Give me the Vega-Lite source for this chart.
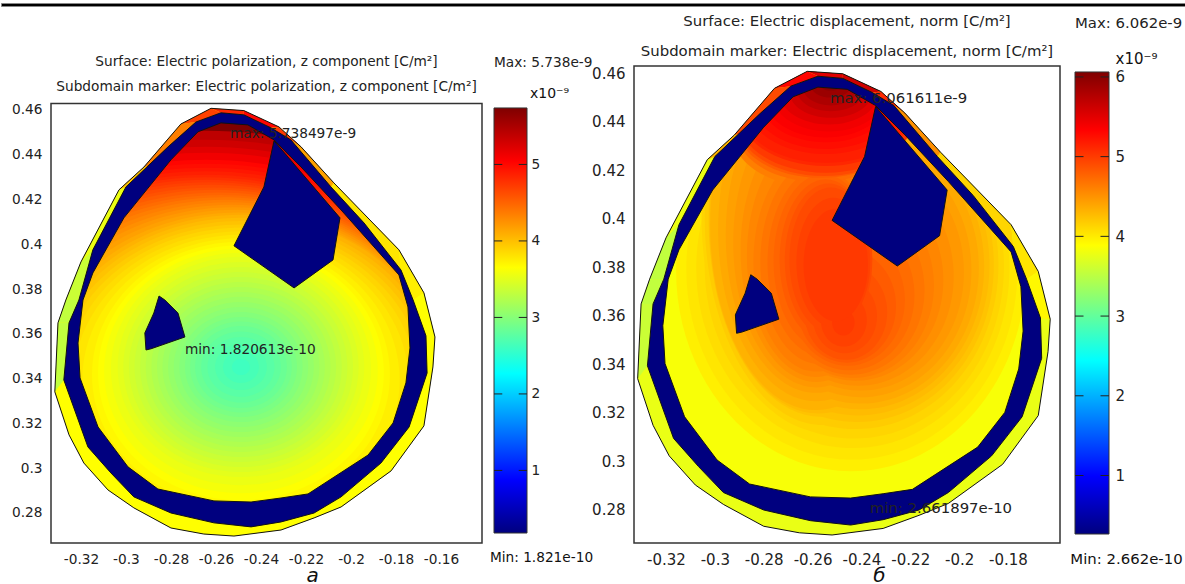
{"$schema":"https://vega.github.io/schema/vega-lite/v6.json","background":"white","padding":{"left":0,"top":2,"right":0,"bottom":0},"spacing":7,
"config":{"font":"DejaVu Sans","view":{"stroke":null},"axis":{"grid":false,"ticks":false,"domain":false,"labelColor":"#222","titleColor":"#111","labelFlush":false,"labelOverlap":false},"title":{"fontWeight":"normal","color":"#222","subtitleColor":"#222"}},
"datasets":{
"polys":[
{"s":"O","x":-0.2622,"y":0.4607},{"s":"O","x":-0.2476,"y":0.4597},{"s":"O","x":-0.232,"y":0.4524},{"s":"O","x":-0.2222,"y":0.4435},{"s":"O","x":-0.2076,"y":0.4274},{"s":"O","x":-0.1787,"y":0.3975},{"s":"O","x":-0.1676,"y":0.3783},{"s":"O","x":-0.1627,"y":0.3586},{"s":"O","x":-0.1636,"y":0.3452},{"s":"O","x":-0.1676,"y":0.3189},{"s":"O","x":-0.1822,"y":0.2988},{"s":"O","x":-0.2044,"y":0.2827},{"s":"O","x":-0.2164,"y":0.2778},{"s":"O","x":-0.2311,"y":0.2724},{"s":"O","x":-0.252,"y":0.2697},{"s":"O","x":-0.2654,"y":0.2706},{"s":"O","x":-0.28,"y":0.2733},{"s":"O","x":-0.2965,"y":0.2823},{"s":"O","x":-0.308,"y":0.2903},{"s":"O","x":-0.3187,"y":0.3023},{"s":"O","x":-0.3253,"y":0.3149},{"s":"O","x":-0.3316,"y":0.3341},{"s":"O","x":-0.3302,"y":0.3649},{"s":"O","x":-0.3267,"y":0.3751},{"s":"O","x":-0.32,"y":0.3921},{"s":"O","x":-0.3031,"y":0.4243},{"s":"O","x":-0.292,"y":0.4345},{"s":"O","x":-0.2756,"y":0.4537},{"s":"O","x":-0.2622,"y":0.4607},
{"s":"R","x":-0.2578,"y":0.4587},{"s":"R","x":-0.2476,"y":0.4578},{"s":"R","x":-0.2356,"y":0.452},{"s":"R","x":-0.2267,"y":0.4466},{"s":"R","x":-0.2089,"y":0.4256},{"s":"R","x":-0.1942,"y":0.4095},{"s":"R","x":-0.1778,"y":0.3885},{"s":"R","x":-0.1724,"y":0.3751},{"s":"R","x":-0.1667,"y":0.3591},{"s":"R","x":-0.1662,"y":0.3425},{"s":"R","x":-0.1742,"y":0.3184},{"s":"R","x":-0.1867,"y":0.3023},{"s":"R","x":-0.2044,"y":0.2872},{"s":"R","x":-0.2164,"y":0.28},{"s":"R","x":-0.2311,"y":0.276},{"s":"R","x":-0.2444,"y":0.2738},{"s":"R","x":-0.2609,"y":0.2756},{"s":"R","x":-0.28,"y":0.28},{"s":"R","x":-0.2965,"y":0.2872},{"s":"R","x":-0.3067,"y":0.2979},{"s":"R","x":-0.3169,"y":0.3095},{"s":"R","x":-0.3276,"y":0.3394},{"s":"R","x":-0.3253,"y":0.3649},{"s":"R","x":-0.3209,"y":0.3751},{"s":"R","x":-0.3147,"y":0.3975},{"s":"R","x":-0.3,"y":0.4256},{"s":"R","x":-0.2813,"y":0.4435},{"s":"R","x":-0.2689,"y":0.4546},{"s":"R","x":-0.2578,"y":0.4587},
{"s":"I","x":-0.2578,"y":0.4542},{"s":"I","x":-0.2458,"y":0.4533},{"s":"I","x":-0.2342,"y":0.4466},{"s":"I","x":-0.2222,"y":0.4345},{"s":"I","x":-0.2044,"y":0.4153},{"s":"I","x":-0.1787,"y":0.3863},{"s":"I","x":-0.1747,"y":0.372},{"s":"I","x":-0.1738,"y":0.3537},{"s":"I","x":-0.1756,"y":0.3381},{"s":"I","x":-0.1813,"y":0.3202},{"s":"I","x":-0.1924,"y":0.3059},{"s":"I","x":-0.2191,"y":0.2885},{"s":"I","x":-0.2311,"y":0.2867},{"s":"I","x":-0.2444,"y":0.2849},{"s":"I","x":-0.2609,"y":0.2854},{"s":"I","x":-0.2858,"y":0.2907},{"s":"I","x":-0.2991,"y":0.3006},{"s":"I","x":-0.3124,"y":0.3184},{"s":"I","x":-0.3204,"y":0.3403},{"s":"I","x":-0.3213,"y":0.3559},{"s":"I","x":-0.3191,"y":0.3751},{"s":"I","x":-0.3147,"y":0.3872},{"s":"I","x":-0.3009,"y":0.4118},{"s":"I","x":-0.28,"y":0.4377},{"s":"I","x":-0.268,"y":0.4502},{"s":"I","x":-0.2578,"y":0.4542},
{"s":"H","x":-0.2342,"y":0.4462},{"s":"H","x":-0.2049,"y":0.4118},{"s":"H","x":-0.208,"y":0.393},{"s":"H","x":-0.2253,"y":0.3805},{"s":"H","x":-0.252,"y":0.3993},{"s":"H","x":-0.2387,"y":0.4256},{"s":"H","x":-0.2342,"y":0.4462},
{"s":"S","x":-0.2853,"y":0.3769},{"s":"S","x":-0.2827,"y":0.3751},{"s":"S","x":-0.2769,"y":0.3693},{"s":"S","x":-0.2738,"y":0.3586},{"s":"S","x":-0.2889,"y":0.3533},{"s":"S","x":-0.2911,"y":0.3528},{"s":"S","x":-0.2916,"y":0.3604},{"s":"S","x":-0.2876,"y":0.3693},{"s":"S","x":-0.2853,"y":0.3769}
],
"mask":[
{"x":-0.34,"y":0.49},{"x":-0.13,"y":0.49},{"x":-0.13,"y":0.26},{"x":-0.34,"y":0.26},{"x":-0.34,"y":0.49},
{"x":-0.2622,"y":0.4607},{"x":-0.2756,"y":0.4537},{"x":-0.292,"y":0.4345},{"x":-0.3031,"y":0.4243},{"x":-0.32,"y":0.3921},{"x":-0.3267,"y":0.3751},{"x":-0.3302,"y":0.3649},{"x":-0.3316,"y":0.3341},{"x":-0.3253,"y":0.3149},{"x":-0.3187,"y":0.3023},{"x":-0.308,"y":0.2903},{"x":-0.2965,"y":0.2823},{"x":-0.28,"y":0.2733},{"x":-0.2654,"y":0.2706},{"x":-0.252,"y":0.2697},{"x":-0.2311,"y":0.2724},{"x":-0.2164,"y":0.2778},{"x":-0.2044,"y":0.2827},{"x":-0.1822,"y":0.2988},{"x":-0.1676,"y":0.3189},{"x":-0.1636,"y":0.3452},{"x":-0.1627,"y":0.3586},{"x":-0.1676,"y":0.3783},{"x":-0.1787,"y":0.3975},{"x":-0.2076,"y":0.4274},{"x":-0.2222,"y":0.4435},{"x":-0.232,"y":0.4524},{"x":-0.2476,"y":0.4597},{"x":-0.2622,"y":0.4607},{"x":-0.34,"y":0.49}
],
"band":[
{"x":-0.2622,"y":0.4607},{"x":-0.2476,"y":0.4597},{"x":-0.232,"y":0.4524},{"x":-0.2222,"y":0.4435},{"x":-0.2076,"y":0.4274},{"x":-0.1787,"y":0.3975},{"x":-0.1676,"y":0.3783},{"x":-0.1627,"y":0.3586},{"x":-0.1636,"y":0.3452},{"x":-0.1676,"y":0.3189},{"x":-0.1822,"y":0.2988},{"x":-0.2044,"y":0.2827},{"x":-0.2164,"y":0.2778},{"x":-0.2311,"y":0.2724},{"x":-0.252,"y":0.2697},{"x":-0.2654,"y":0.2706},{"x":-0.28,"y":0.2733},{"x":-0.2965,"y":0.2823},{"x":-0.308,"y":0.2903},{"x":-0.3187,"y":0.3023},{"x":-0.3253,"y":0.3149},{"x":-0.3316,"y":0.3341},{"x":-0.3302,"y":0.3649},{"x":-0.3267,"y":0.3751},{"x":-0.32,"y":0.3921},{"x":-0.3031,"y":0.4243},{"x":-0.292,"y":0.4345},{"x":-0.2756,"y":0.4537},{"x":-0.2622,"y":0.4607},
{"x":-0.2578,"y":0.4587},{"x":-0.2689,"y":0.4546},{"x":-0.2813,"y":0.4435},{"x":-0.3,"y":0.4256},{"x":-0.3147,"y":0.3975},{"x":-0.3209,"y":0.3751},{"x":-0.3253,"y":0.3649},{"x":-0.3276,"y":0.3394},{"x":-0.3169,"y":0.3095},{"x":-0.3067,"y":0.2979},{"x":-0.2965,"y":0.2872},{"x":-0.28,"y":0.28},{"x":-0.2609,"y":0.2756},{"x":-0.2444,"y":0.2738},{"x":-0.2311,"y":0.276},{"x":-0.2164,"y":0.28},{"x":-0.2044,"y":0.2872},{"x":-0.1867,"y":0.3023},{"x":-0.1742,"y":0.3184},{"x":-0.1662,"y":0.3425},{"x":-0.1667,"y":0.3591},{"x":-0.1724,"y":0.3751},{"x":-0.1778,"y":0.3885},{"x":-0.1942,"y":0.4095},{"x":-0.2089,"y":0.4256},{"x":-0.2267,"y":0.4466},{"x":-0.2356,"y":0.452},{"x":-0.2476,"y":0.4578},{"x":-0.2578,"y":0.4587},{"x":-0.2622,"y":0.4607}
],
"ring":[
{"s":"K","x":-0.2578,"y":0.4587},{"s":"K","x":-0.2476,"y":0.4578},{"s":"K","x":-0.2356,"y":0.452},{"s":"K","x":-0.2267,"y":0.4466},{"s":"K","x":-0.2089,"y":0.4256},{"s":"K","x":-0.1942,"y":0.4095},{"s":"K","x":-0.1778,"y":0.3885},{"s":"K","x":-0.1724,"y":0.3751},{"s":"K","x":-0.1667,"y":0.3591},{"s":"K","x":-0.1662,"y":0.3425},{"s":"K","x":-0.1742,"y":0.3184},{"s":"K","x":-0.1867,"y":0.3023},{"s":"K","x":-0.2044,"y":0.2872},{"s":"K","x":-0.2164,"y":0.28},{"s":"K","x":-0.2311,"y":0.276},{"s":"K","x":-0.2444,"y":0.2738},{"s":"K","x":-0.2609,"y":0.2756},{"s":"K","x":-0.28,"y":0.28},{"s":"K","x":-0.2965,"y":0.2872},{"s":"K","x":-0.3067,"y":0.2979},{"s":"K","x":-0.3169,"y":0.3095},{"s":"K","x":-0.3276,"y":0.3394},{"s":"K","x":-0.3253,"y":0.3649},{"s":"K","x":-0.3209,"y":0.3751},{"s":"K","x":-0.3147,"y":0.3975},{"s":"K","x":-0.3,"y":0.4256},{"s":"K","x":-0.2813,"y":0.4435},{"s":"K","x":-0.2689,"y":0.4546},{"s":"K","x":-0.2578,"y":0.4587},
{"s":"K","x":-0.2578,"y":0.4542},{"s":"K","x":-0.268,"y":0.4502},{"s":"K","x":-0.28,"y":0.4377},{"s":"K","x":-0.3009,"y":0.4118},{"s":"K","x":-0.3147,"y":0.3872},{"s":"K","x":-0.3191,"y":0.3751},{"s":"K","x":-0.3213,"y":0.3559},{"s":"K","x":-0.3204,"y":0.3403},{"s":"K","x":-0.3124,"y":0.3184},{"s":"K","x":-0.2991,"y":0.3006},{"s":"K","x":-0.2858,"y":0.2907},{"s":"K","x":-0.2609,"y":0.2854},{"s":"K","x":-0.2444,"y":0.2849},{"s":"K","x":-0.2311,"y":0.2867},{"s":"K","x":-0.2191,"y":0.2885},{"s":"K","x":-0.1924,"y":0.3059},{"s":"K","x":-0.1813,"y":0.3202},{"s":"K","x":-0.1756,"y":0.3381},{"s":"K","x":-0.1738,"y":0.3537},{"s":"K","x":-0.1747,"y":0.372},{"s":"K","x":-0.1787,"y":0.3863},{"s":"K","x":-0.2044,"y":0.4153},{"s":"K","x":-0.2222,"y":0.4345},{"s":"K","x":-0.2342,"y":0.4466},{"s":"K","x":-0.2458,"y":0.4533},{"s":"K","x":-0.2578,"y":0.4542},{"s":"K","x":-0.2578,"y":0.4587},
{"s":"H","x":-0.2342,"y":0.4462},{"s":"H","x":-0.2049,"y":0.4118},{"s":"H","x":-0.208,"y":0.393},{"s":"H","x":-0.2253,"y":0.3805},{"s":"H","x":-0.252,"y":0.3993},{"s":"H","x":-0.2387,"y":0.4256},
{"s":"S","x":-0.2853,"y":0.3769},{"s":"S","x":-0.2827,"y":0.3751},{"s":"S","x":-0.2769,"y":0.3693},{"s":"S","x":-0.2738,"y":0.3586},{"s":"S","x":-0.2889,"y":0.3533},{"s":"S","x":-0.2911,"y":0.3528},{"s":"S","x":-0.2916,"y":0.3604},{"s":"S","x":-0.2876,"y":0.3693}
],
"strips":[
{"s":"q22","a":3.5,"b":3.55,"x":-0.3316,"y":0.3341},{"s":"q22","a":3.5,"b":3.55,"x":-0.3302,"y":0.3649},{"s":"q22","a":3.5,"b":3.55,"x":-0.3253,"y":0.3649},{"s":"q22","a":3.5,"b":3.55,"x":-0.3276,"y":0.3394},
{"s":"q23","a":3.5,"b":3.5,"x":-0.3302,"y":0.3649},{"s":"q23","a":3.5,"b":3.5,"x":-0.3267,"y":0.3751},{"s":"q23","a":3.5,"b":3.5,"x":-0.3209,"y":0.3751},{"s":"q23","a":3.5,"b":3.5,"x":-0.3253,"y":0.3649},
{"s":"q24","a":3.55,"b":3.5,"x":-0.3267,"y":0.3751},{"s":"q24","a":3.55,"b":3.5,"x":-0.32,"y":0.3921},{"s":"q24","a":3.55,"b":3.5,"x":-0.3147,"y":0.3975},{"s":"q24","a":3.55,"b":3.5,"x":-0.3209,"y":0.3751},
{"s":"q25","a":3.75,"b":3.75,"x":-0.32,"y":0.3921},{"s":"q25","a":3.75,"b":3.75,"x":-0.3031,"y":0.4243},{"s":"q25","a":3.75,"b":3.75,"x":-0.3,"y":0.4256},{"s":"q25","a":3.75,"b":3.75,"x":-0.3147,"y":0.3975},
{"s":"q26","a":4.2,"b":4.3,"x":-0.3031,"y":0.4243},{"s":"q26","a":4.2,"b":4.3,"x":-0.292,"y":0.4345},{"s":"q26","a":4.2,"b":4.3,"x":-0.29,"y":0.435},{"s":"q26","a":4.2,"b":4.3,"x":-0.3,"y":0.4256},
{"s":"q27","a":4.6,"b":4.9,"x":-0.292,"y":0.4345},{"s":"q27","a":4.6,"b":4.9,"x":-0.2756,"y":0.4537},{"s":"q27","a":4.6,"b":4.9,"x":-0.2689,"y":0.4546},{"s":"q27","a":4.6,"b":4.9,"x":-0.2813,"y":0.4435},{"s":"q27","a":4.6,"b":4.9,"x":-0.29,"y":0.435},
{"s":"q28","a":4.95,"b":5.3,"x":-0.2756,"y":0.4537},{"s":"q28","a":4.95,"b":5.3,"x":-0.2622,"y":0.4607},{"s":"q28","a":4.95,"b":5.3,"x":-0.2578,"y":0.4587},{"s":"q28","a":4.95,"b":5.3,"x":-0.2689,"y":0.4546},
{"s":"q1","a":5.1,"b":5.5,"x":-0.2622,"y":0.4607},{"s":"q1","a":5.1,"b":5.5,"x":-0.2476,"y":0.4597},{"s":"q1","a":5.1,"b":5.5,"x":-0.2476,"y":0.4578},{"s":"q1","a":5.1,"b":5.5,"x":-0.2578,"y":0.4587},
{"s":"q2","a":5.3,"b":5.6,"x":-0.2476,"y":0.4597},{"s":"q2","a":5.3,"b":5.6,"x":-0.232,"y":0.4524},{"s":"q2","a":5.3,"b":5.6,"x":-0.2356,"y":0.452},{"s":"q2","a":5.3,"b":5.6,"x":-0.2476,"y":0.4578},
{"s":"q3","a":5.0,"b":5.1,"x":-0.232,"y":0.4524},{"s":"q3","a":5.0,"b":5.1,"x":-0.2222,"y":0.4435},{"s":"q3","a":5.0,"b":5.1,"x":-0.2267,"y":0.4466},{"s":"q3","a":5.0,"b":5.1,"x":-0.2356,"y":0.452},
{"s":"q4","a":4.4,"b":4.5,"x":-0.2222,"y":0.4435},{"s":"q4","a":4.4,"b":4.5,"x":-0.2076,"y":0.4274},{"s":"q4","a":4.4,"b":4.5,"x":-0.2089,"y":0.4256},{"s":"q4","a":4.4,"b":4.5,"x":-0.2267,"y":0.4466},
{"s":"q5","a":4.0,"b":4.1,"x":-0.2076,"y":0.4274},{"s":"q5","a":4.0,"b":4.1,"x":-0.1787,"y":0.3975},{"s":"q5","a":4.0,"b":4.1,"x":-0.1778,"y":0.3885},{"s":"q5","a":4.0,"b":4.1,"x":-0.1942,"y":0.4095},{"s":"q5","a":4.0,"b":4.1,"x":-0.2089,"y":0.4256},
{"s":"q6","a":3.95,"b":4.0,"x":-0.1787,"y":0.3975},{"s":"q6","a":3.95,"b":4.0,"x":-0.1676,"y":0.3783},{"s":"q6","a":3.95,"b":4.0,"x":-0.1724,"y":0.3751},{"s":"q6","a":3.95,"b":4.0,"x":-0.1778,"y":0.3885},
{"s":"q7","a":3.85,"b":3.9,"x":-0.1676,"y":0.3783},{"s":"q7","a":3.85,"b":3.9,"x":-0.1627,"y":0.3586},{"s":"q7","a":3.85,"b":3.9,"x":-0.1667,"y":0.3591},{"s":"q7","a":3.85,"b":3.9,"x":-0.1724,"y":0.3751}
],
"ella":[
{"v":5.7,"x":-0.2644,"y":0.2943,"r":0.1743},{"v":5.6,"x":-0.2644,"y":0.2948,"r":0.1693},{"v":5.5,"x":-0.2644,"y":0.2961,"r":0.1643},{"v":5.4,"x":-0.2644,"y":0.2979,"r":0.1594},{"v":5.3,"x":-0.2644,"y":0.2992,"r":0.1544},{"v":5.25,"x":-0.2644,"y":0.2997,"r":0.1519},{"v":5.2,"x":-0.2644,"y":0.3001,"r":0.1494},{"v":5.15,"x":-0.2644,"y":0.3008,"r":0.1469},{"v":5.1,"x":-0.2644,"y":0.3015,"r":0.1444},{"v":5.05,"x":-0.2644,"y":0.3037,"r":0.1407},{"v":5.0,"x":-0.2644,"y":0.3059,"r":0.137},{"v":4.95,"x":-0.2633,"y":0.3077,"r":0.1337},{"v":4.9,"x":-0.2622,"y":0.3095,"r":0.1305},{"v":4.85,"x":-0.2611,"y":0.311,"r":0.1275},{"v":4.8,"x":-0.26,"y":0.3126,"r":0.1245},{"v":4.75,"x":-0.2589,"y":0.3141,"r":0.1215},{"v":4.7,"x":-0.2578,"y":0.3157,"r":0.1185},{"v":4.65,"x":-0.2567,"y":0.3175,"r":0.1153},{"v":4.6,"x":-0.2556,"y":0.3193,"r":0.1121},{"v":4.55,"x":-0.2544,"y":0.3211,"r":0.1088},{"v":4.5,"x":-0.2533,"y":0.3229,"r":0.1056},{"v":4.45,"x":-0.2522,"y":0.3245,"r":0.1026},{"v":4.4,"x":-0.2511,"y":0.326,"r":0.0996},{"v":4.35,"x":-0.25,"y":0.3271,"r":0.0971},{"v":4.3,"x":-0.2489,"y":0.3283,"r":0.0946},{"v":4.25,"x":-0.2489,"y":0.3296,"r":0.0916},{"v":4.2,"x":-0.2489,"y":0.3309,"r":0.0886},{"v":4.15,"x":-0.2489,"y":0.3322,"r":0.0854},{"v":4.1,"x":-0.2489,"y":0.3336,"r":0.0822},{"v":4.05,"x":-0.2489,"y":0.3354,"r":0.0785},{"v":4.0,"x":-0.2489,"y":0.3372,"r":0.0747},{"v":3.95,"x":-0.2489,"y":0.3394,"r":0.0705},{"v":3.9,"x":-0.2489,"y":0.3417,"r":0.0662},{"v":3.85,"x":-0.2489,"y":0.3426,"r":0.0635},{"v":3.8,"x":-0.2489,"y":0.3434,"r":0.0608},{"v":3.75,"x":-0.2489,"y":0.3443,"r":0.0578},{"v":3.7,"x":-0.2489,"y":0.3452,"r":0.0548},{"v":3.65,"x":-0.2489,"y":0.3452,"r":0.0523},{"v":3.6,"x":-0.2489,"y":0.3452,"r":0.0498},{"v":3.55,"x":-0.2489,"y":0.3452,"r":0.0473},{"v":3.5,"x":-0.2489,"y":0.3452,"r":0.0448},{"v":3.45,"x":-0.2489,"y":0.3452,"r":0.0423},{"v":3.4,"x":-0.2489,"y":0.3452,"r":0.0398},{"v":3.35,"x":-0.2489,"y":0.3452,"r":0.0373},{"v":3.3,"x":-0.2489,"y":0.3452,"r":0.0349},{"v":3.25,"x":-0.2489,"y":0.3452,"r":0.0324},{"v":3.2,"x":-0.2489,"y":0.3452,"r":0.0299},{"v":3.15,"x":-0.2489,"y":0.3452,"r":0.0274},{"v":3.1,"x":-0.2489,"y":0.3452,"r":0.0249},{"v":3.05,"x":-0.2489,"y":0.3452,"r":0.0226},{"v":3.0,"x":-0.2489,"y":0.3452,"r":0.0204},{"v":2.95,"x":-0.2489,"y":0.3452,"r":0.0177},{"v":2.9,"x":-0.2489,"y":0.3452,"r":0.0149},{"v":2.85,"x":-0.2489,"y":0.3452,"r":0.0115},{"v":2.8,"x":-0.2489,"y":0.3452,"r":0.008},{"v":2.75,"x":-0.2489,"y":0.3452,"r":0.004}
],
"ellb":[
{"e":"t","v":3.95,"x":-0.2443,"y":0.3788,"r":0.0777},{"e":"t","v":4.0,"x":-0.2439,"y":0.3792,"r":0.0736},{"e":"t","v":4.05,"x":-0.2435,"y":0.3797,"r":0.0696},
{"e":"t","v":4.1,"x":-0.2429,"y":0.3803,"r":0.0665},{"e":"r","v":4.1,"x":-0.2546,"y":0.4015,"r":0.0552},
{"e":"t","v":4.15,"x":-0.2423,"y":0.3809,"r":0.0634},{"e":"r","v":4.15,"x":-0.2556,"y":0.4005,"r":0.0527},
{"e":"t","v":4.2,"x":-0.2417,"y":0.3809,"r":0.0607},{"e":"r","v":4.2,"x":-0.2566,"y":0.3994,"r":0.0499},
{"e":"t","v":4.25,"x":-0.2411,"y":0.3809,"r":0.0581},{"e":"r","v":4.25,"x":-0.2576,"y":0.3984,"r":0.0485},
{"e":"t","v":4.3,"x":-0.2406,"y":0.3803,"r":0.0552},{"e":"r","v":4.3,"x":-0.2586,"y":0.3974,"r":0.047},
{"e":"t","v":4.35,"x":-0.2402,"y":0.3797,"r":0.0524},{"e":"r","v":4.35,"x":-0.2586,"y":0.3954,"r":0.0435},
{"e":"t","v":4.4,"x":-0.2402,"y":0.3788,"r":0.0491},{"e":"r","v":4.4,"x":-0.2586,"y":0.3933,"r":0.0401},
{"e":"t","v":4.45,"x":-0.2402,"y":0.378,"r":0.0458},{"e":"r","v":4.45,"x":-0.2586,"y":0.3902,"r":0.0368},
{"e":"t","v":4.5,"x":-0.2412,"y":0.3763,"r":0.0423},{"e":"r","v":4.5,"x":-0.2586,"y":0.3871,"r":0.0335},
{"e":"t","v":4.55,"x":-0.2423,"y":0.3747,"r":0.0389},{"e":"r","v":4.55,"x":-0.2586,"y":0.3846,"r":0.0307},
{"e":"t","v":4.6,"x":-0.2433,"y":0.3726,"r":0.0358},{"e":"r","v":4.6,"x":-0.2586,"y":0.3821,"r":0.0278},{"e":"w","v":4.6,"x":-0.2586,"y":0.4345,"r":0.0368},
{"e":"t","v":4.65,"x":-0.2443,"y":0.3706,"r":0.0327},{"e":"r","v":4.65,"x":-0.2576,"y":0.3821,"r":0.0258},
{"e":"t","v":4.7,"x":-0.245,"y":0.3685,"r":0.029},{"e":"r","v":4.7,"x":-0.2566,"y":0.3821,"r":0.0237},{"e":"w","v":4.7,"x":-0.2574,"y":0.4365,"r":0.0368},
{"e":"t","v":4.75,"x":-0.2456,"y":0.3665,"r":0.0254},{"e":"r","v":4.75,"x":-0.2556,"y":0.3826,"r":0.0221},
{"e":"t","v":4.8,"x":-0.246,"y":0.364,"r":0.0219},{"e":"r","v":4.8,"x":-0.2546,"y":0.383,"r":0.0205},{"e":"w","v":4.8,"x":-0.2566,"y":0.4386,"r":0.0376},
{"e":"t","v":4.85,"x":-0.2464,"y":0.3615,"r":0.0184},{"e":"r","v":4.85,"x":-0.2535,"y":0.383,"r":0.0194},
{"e":"t","v":4.9,"x":-0.2468,"y":0.3598,"r":0.0143},{"e":"r","v":4.9,"x":-0.2525,"y":0.383,"r":0.0184},{"e":"w","v":4.9,"x":-0.2554,"y":0.4398,"r":0.0384},
{"e":"t","v":4.95,"x":-0.2472,"y":0.3582,"r":0.0102},{"e":"r","v":4.95,"x":-0.2515,"y":0.382,"r":0.0164},
{"e":"t","v":5.0,"x":-0.2474,"y":0.3572,"r":0.005},{"e":"r","v":5.0,"x":-0.2505,"y":0.3809,"r":0.0143},{"e":"w","v":5.0,"x":-0.2546,"y":0.4415,"r":0.0389},
{"e":"w","v":5.1,"x":-0.2546,"y":0.4439,"r":0.0384},{"e":"w","v":5.15,"x":-0.2546,"y":0.4448,"r":0.0376},{"e":"w","v":5.2,"x":-0.2546,"y":0.4468,"r":0.0348},{"e":"w","v":5.25,"x":-0.2546,"y":0.4472,"r":0.0319},{"e":"w","v":5.3,"x":-0.2546,"y":0.4481,"r":0.0286},{"e":"w","v":5.35,"x":-0.2546,"y":0.4489,"r":0.0266},{"e":"w","v":5.4,"x":-0.2533,"y":0.4501,"r":0.0245},{"e":"w","v":5.5,"x":-0.2533,"y":0.4514,"r":0.0217},{"e":"w","v":5.6,"x":-0.2525,"y":0.4522,"r":0.0184},{"e":"w","v":5.7,"x":-0.2525,"y":0.453,"r":0.0151},{"e":"w","v":5.8,"x":-0.2525,"y":0.4538,"r":0.0123},{"e":"w","v":5.9,"x":-0.2525,"y":0.4551,"r":0.009},{"e":"w","v":6.0,"x":-0.2525,"y":0.4563,"r":0.0061}
]
},
"vconcat":[
{"width":1185,"height":3,"data":{"values":[{"n":0}]},"mark":{"type":"rule","opacity":0},"encoding":{},"view":{"fill":"#000","stroke":"#888","strokeWidth":1}},
{"hconcat":[
{"width":50,"height":477,"data":{"values":[{"n":0}]},"mark":{"type":"rule","opacity":0},"encoding":{}},
{"width":431,"height":477,
"title":{"text":"Surface: Electric polarization, z component [C/m²]","subtitle":"Subdomain marker: Electric polarization, z component [C/m²]","anchor":"middle","frame":"group","offset":-28,"subtitlePadding":12,"fontSize":13.7,"subtitleFontSize":13.7},
"encoding":{
"x":{"field":"x","type":"quantitative","scale":{"domain":[-0.3333,-0.1418],"nice":false,"zero":false},"axis":{"values":[-0.32,-0.3,-0.28,-0.26,-0.24,-0.22,-0.2,-0.18,-0.16],"labelExpr":"'' + datum.value","labelFontSize":13.7,"labelPadding":9,"title":"а","titleFontStyle":"italic","titleFontWeight":"normal","titleFontSize":20,"titleX":261,"titleY":22}},
"y":{"field":"y","type":"quantitative","scale":{"domain":[0.2666,0.4796],"nice":false,"zero":false},"axis":{"values":[0.28,0.3,0.32,0.34,0.36,0.38,0.4,0.42,0.44,0.46],"labelExpr":"'' + datum.value","labelFontSize":13.7,"labelPadding":9,"title":null}}},
"layer":[
{"data":{"name":"polys"},"transform":[{"filter":"datum.s==='R'"},{"window":[{"op":"row_number","as":"i"}]}],"mark":{"type":"line","filled":true,"color":"#7f0000"},"encoding":{"order":{"field":"i"}}},
{"data":{"name":"ella"},"mark":{"type":"point","filled":true,"clip":true,"opacity":1,"strokeWidth":0,"shape":"M-1,0A1,0.893,0,1,1,1,0A1,0.893,0,1,1,-1,0Z"},"encoding":{"color":{"field":"v","type":"quantitative","legend":null,"scale":{"domain":[0.182,0.8765,1.571,2.2655,2.96,3.6545,4.349,5.0435,5.738],"range":["#00007f","#0000ff","#007fff","#00ffff","#7fff7f","#ffff00","#ff7f00","#ff0000","#7f0000"],"interpolate":"rgb","clamp":true}},"size":{"field":"r","type":"quantitative","legend":null,"scale":{"type":"pow","exponent":2,"domain":[0,0.2],"range":[0,810000]}}}},
{"data":{"name":"mask"},"transform":[{"window":[{"op":"row_number","as":"i"}]}],"mark":{"type":"line","filled":true,"color":"#ffffff","clip":true},"encoding":{"order":{"field":"i"}}},
{"data":{"name":"band"},"transform":[{"window":[{"op":"row_number","as":"i"}]}],"mark":{"type":"line","filled":true,"color":"#ffff00"},"encoding":{"order":{"field":"i"}}},
{"data":{"name":"strips"},"transform":[{"window":[{"op":"row_number","as":"i"}]}],"mark":{"type":"line","filled":true},"encoding":{"order":{"field":"i"},"detail":{"field":"s"},"color":{"field":"a","type":"quantitative","legend":null,"scale":{"domain":[0.182,0.8765,1.571,2.2655,2.96,3.6545,4.349,5.0435,5.738],"range":["#00007f","#0000ff","#007fff","#00ffff","#7fff7f","#ffff00","#ff7f00","#ff0000","#7f0000"],"interpolate":"rgb","clamp":true}}}},
{"data":{"name":"ring"},"transform":[{"window":[{"op":"row_number","as":"i"}]}],"mark":{"type":"line","filled":true,"color":"#00007f"},"encoding":{"order":{"field":"i"},"detail":{"field":"s"}}},
{"data":{"name":"polys"},"transform":[{"window":[{"op":"row_number","as":"i"}]}],"mark":{"type":"line","color":"#111","strokeWidth":1},"encoding":{"order":{"field":"i"},"detail":{"field":"s"}}},
{"data":{"values":[{"x":-0.3333,"y":0.2666,"xb":-0.1418,"yb":0.4629}]},"mark":{"type":"rect","fill":"transparent","stroke":"#333","strokeWidth":1.5},"encoding":{"x2":{"field":"xb"},"y2":{"field":"yb"}}},
{"data":{"values":[{"x":-0.2538,"y":0.4493,"t":"max: 5.738497e-9"},{"x":-0.2738,"y":0.3528,"t":"min: 1.820613e-10"}]},"mark":{"type":"text","align":"left","baseline":"middle","fontSize":13.7,"color":"#222"},"encoding":{"text":{"field":"t"}}}
]},
{"width":12,"height":477,"data":{"values":[{"n":0}]},"mark":{"type":"rule","opacity":0},"encoding":{}},
{"width":33,"height":477,
"title":{"text":"Max: 5.738e-9","anchor":"start","frame":"group","offset":-4,"align":"left","fontSize":13.7},
"encoding":{"x":{"field":"x0","type":"quantitative","scale":{"domain":[0,1],"nice":false,"zero":false},"axis":{"labels":false,"title":"Min: 1.821e-10","titleFontSize":13.7,"titleFontWeight":"normal","titleX":47,"titleY":7}},
"y":{"field":"v0","type":"quantitative","scale":{"domain":[0.0513,6.2866],"nice":false,"zero":false},"axis":{"orient":"right","values":[1,2,3,4,5],"labelFontSize":13.7,"labelPadding":4,"title":"x10⁻⁹","titleAngle":0,"titleFontSize":14,"titleFontWeight":"normal","titleBaseline":"middle","titleX":22,"titleY":27}},
"x2":{"field":"x1"}},
"layer":[
{"data":{"values":[{"x0":0,"x1":1,"v0":0.182,"v1":5.738}]},"mark":{"type":"rect","stroke":"#333","strokeWidth":1,"color":{"gradient":"linear","x1":0,"y1":1,"x2":0,"y2":0,"stops":[{"offset":0,"color":"#00007f"},{"offset":0.125,"color":"#0000ff"},{"offset":0.25,"color":"#007fff"},{"offset":0.375,"color":"#00ffff"},{"offset":0.5,"color":"#7fff7f"},{"offset":0.625,"color":"#ffff00"},{"offset":0.75,"color":"#ff7f00"},{"offset":0.875,"color":"#ff0000"},{"offset":1,"color":"#7f0000"}]}},"encoding":{"y2":{"field":"v1"}}},
{"data":{"values":[{"x0":0,"x1":0.25,"v0":1},{"x0":0.75,"x1":1,"v0":1},{"x0":0,"x1":0.25,"v0":2},{"x0":0.75,"x1":1,"v0":2},{"x0":0,"x1":0.25,"v0":3},{"x0":0.75,"x1":1,"v0":3},{"x0":0,"x1":0.25,"v0":4},{"x0":0.75,"x1":1,"v0":4},{"x0":0,"x1":0.25,"v0":5},{"x0":0.75,"x1":1,"v0":5}]},"mark":{"type":"rule","color":"#222","strokeWidth":1}}
]},
{"width":107,"height":477,"data":{"values":[{"n":0}]},"mark":{"type":"rule","opacity":0},"encoding":{}},
{"width":426,"height":477,
"title":{"text":"Surface: Electric displacement, norm [C/m²]","subtitle":"Subdomain marker: Electric displacement, norm [C/m²]","anchor":"middle","frame":"group","offset":6,"subtitlePadding":15,"fontSize":14.9,"subtitleFontSize":14.9},
"encoding":{
"x":{"field":"x","type":"quantitative","scale":{"domain":[-0.3331,-0.1587],"nice":false,"zero":false},"axis":{"values":[-0.32,-0.3,-0.28,-0.26,-0.24,-0.22,-0.2,-0.18],"labelExpr":"'' + datum.value","labelFontSize":15,"labelPadding":9,"title":"б","titleFontStyle":"italic","titleFontWeight":"normal","titleFontSize":20,"titleX":245,"titleY":22}},
"y":{"field":"y","type":"quantitative","scale":{"domain":[0.2664,0.4629],"nice":false,"zero":false},"axis":{"values":[0.28,0.3,0.32,0.34,0.36,0.38,0.4,0.42,0.44,0.46],"labelExpr":"'' + datum.value","labelFontSize":15,"labelPadding":9,"title":null}}},
"layer":[
{"data":{"name":"polys"},"transform":[{"filter":"datum.s==='R'"},{"window":[{"op":"row_number","as":"i"}]}],"mark":{"type":"line","filled":true,"color":"#f8ff07"},"encoding":{"order":{"field":"i"}}},
{"data":{"name":"ellb"},"mark":{"type":"point","filled":true,"clip":true,"opacity":1,"strokeWidth":0},"encoding":{"shape":{"field":"e","type":"nominal","legend":null,"scale":{"domain":["t","r","w"],"range":["M-1,0A1,1.15,0,1,1,1,0A1,1.15,0,1,1,-1,0Z","M-1,0A1,1.75,0,1,1,1,0A1,1.75,0,1,1,-1,0Z","M-1,0A1,0.625,0,1,1,1,0A1,0.625,0,1,1,-1,0Z"]}},"color":{"field":"v","type":"quantitative","legend":null,"scale":{"domain":[0.2662,0.9907,1.7152,2.4397,3.1642,3.8887,4.6132,5.3377,6.0622],"range":["#00007f","#0000ff","#007fff","#00ffff","#7fff7f","#ffff00","#ff7f00","#ff0000","#7f0000"],"interpolate":"rgb","clamp":true}},"size":{"field":"r","type":"quantitative","legend":null,"scale":{"type":"pow","exponent":2,"domain":[0,0.2],"range":[0,954920]}}}},
{"data":{"name":"mask"},"transform":[{"window":[{"op":"row_number","as":"i"}]}],"mark":{"type":"line","filled":true,"color":"#ffffff","clip":true},"encoding":{"order":{"field":"i"}}},
{"data":{"name":"band"},"transform":[{"window":[{"op":"row_number","as":"i"}]}],"mark":{"type":"line","filled":true,"color":"#eaff15"},"encoding":{"order":{"field":"i"}}},
{"data":{"name":"strips"},"transform":[{"window":[{"op":"row_number","as":"i"}]}],"mark":{"type":"line","filled":true},"encoding":{"order":{"field":"i"},"detail":{"field":"s"},"color":{"field":"b","type":"quantitative","legend":null,"scale":{"domain":[0.2662,0.9907,1.7152,2.4397,3.1642,3.8887,4.6132,5.3377,6.0622],"range":["#00007f","#0000ff","#007fff","#00ffff","#7fff7f","#ffff00","#ff7f00","#ff0000","#7f0000"],"interpolate":"rgb","clamp":true}}}},
{"data":{"name":"ring"},"transform":[{"window":[{"op":"row_number","as":"i"}]}],"mark":{"type":"line","filled":true,"color":"#00007f"},"encoding":{"order":{"field":"i"},"detail":{"field":"s"}}},
{"data":{"name":"polys"},"transform":[{"window":[{"op":"row_number","as":"i"}]}],"mark":{"type":"line","color":"#111","strokeWidth":1},"encoding":{"order":{"field":"i"},"detail":{"field":"s"}}},
{"data":{"values":[{"x":-0.3331,"y":0.2664,"xb":-0.1587,"yb":0.4629}]},"mark":{"type":"rect","fill":"transparent","stroke":"#333","strokeWidth":1.5},"encoding":{"x2":{"field":"xb"},"y2":{"field":"yb"}}},
{"data":{"values":[{"x":-0.2529,"y":0.4493,"t":"max: 6.061611e-9"},{"x":-0.2366,"y":0.2804,"t":"min: 2.661897e-10"}]},"mark":{"type":"text","align":"left","baseline":"middle","fontSize":14.9,"color":"#222"},"encoding":{"text":{"field":"t"}}}
]},
{"width":15,"height":477,"data":{"values":[{"n":0}]},"mark":{"type":"rule","opacity":0},"encoding":{}},
{"width":34,"height":477,
"title":{"text":"Max: 6.062e-9","anchor":"start","frame":"group","offset":20,"align":"left","fontSize":14.9},
"encoding":{"x":{"field":"x0","type":"quantitative","scale":{"domain":[0,1],"nice":false,"zero":false},"axis":{"labels":false,"title":"Min: 2.662e-10","titleFontSize":14.9,"titleFontWeight":"normal","titleX":51,"titleY":8}},
"y":{"field":"v0","type":"quantitative","scale":{"domain":[0.1533,6.137],"nice":false,"zero":false},"axis":{"orient":"right","values":[1,2,3,4,5,6],"labelFontSize":15,"labelPadding":6,"title":"x10⁻⁹","titleAngle":0,"titleFontSize":15,"titleFontWeight":"normal","titleBaseline":"middle","titleX":27,"titleY":-8}},
"x2":{"field":"x1"}},
"layer":[
{"data":{"values":[{"x0":0,"x1":1,"v0":0.2662,"v1":6.062}]},"mark":{"type":"rect","stroke":"#333","strokeWidth":1,"color":{"gradient":"linear","x1":0,"y1":1,"x2":0,"y2":0,"stops":[{"offset":0,"color":"#00007f"},{"offset":0.125,"color":"#0000ff"},{"offset":0.25,"color":"#007fff"},{"offset":0.375,"color":"#00ffff"},{"offset":0.5,"color":"#7fff7f"},{"offset":0.625,"color":"#ffff00"},{"offset":0.75,"color":"#ff7f00"},{"offset":0.875,"color":"#ff0000"},{"offset":1,"color":"#7f0000"}]}},"encoding":{"y2":{"field":"v1"}}},
{"data":{"values":[{"x0":0,"x1":0.25,"v0":1},{"x0":0.75,"x1":1,"v0":1},{"x0":0,"x1":0.25,"v0":2},{"x0":0.75,"x1":1,"v0":2},{"x0":0,"x1":0.25,"v0":3},{"x0":0.75,"x1":1,"v0":3},{"x0":0,"x1":0.25,"v0":4},{"x0":0.75,"x1":1,"v0":4},{"x0":0,"x1":0.25,"v0":5},{"x0":0.75,"x1":1,"v0":5},{"x0":0,"x1":0.25,"v0":6},{"x0":0.75,"x1":1,"v0":6}]},"mark":{"type":"rule","color":"#222","strokeWidth":1}}
]}
],"spacing":0,"bounds":"flush"}
]}
